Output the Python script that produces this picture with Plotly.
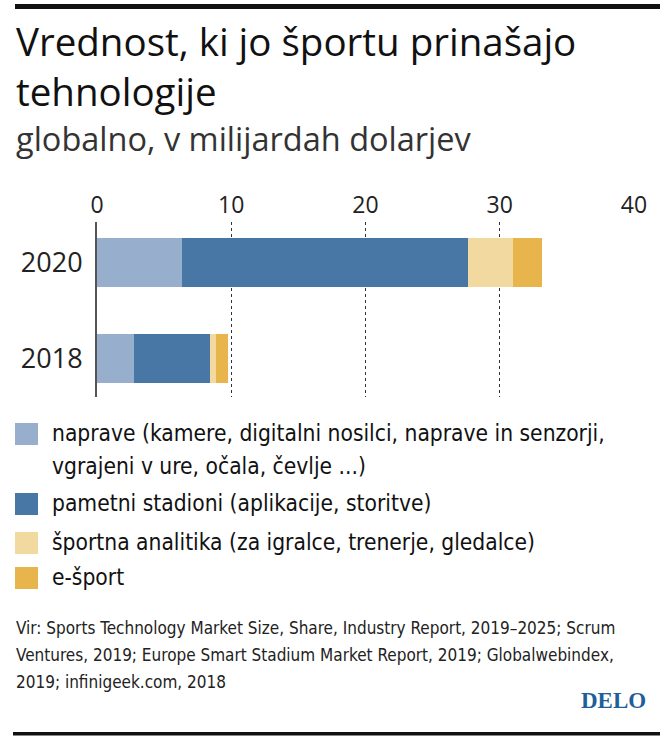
import plotly.graph_objects as go

# ---------------- data ----------------
years = ["2020", "2018"]
series_names = [
    "naprave (kamere, digitalni nosilci, naprave in senzorji,<br>vgrajeni v ure, očala, čevlje ...)",
    "pametni stadioni (aplikacije, storitve)",
    "športna analitika (za igralce, trenerje, gledalce)",
    "e-šport",
]
naprave = [6.35, 2.73]
stadioni = [21.25, 5.71]
analitika = [3.38, 0.42]
esport = [2.18, 0.92]
series_values = [naprave, stadioni, analitika, esport]
colors = ["#98AECD", "#4877A6", "#F2D9A0", "#E8B54C"]
x_ticks = [0, 10, 20, 30, 40]

title_lines = ["Vrednost, ki jo športu prinašajo", "tehnologije"]
subtitle = "globalno, v milijardah dolarjev"
source_lines = [
    "Vir: Sports Technology Market Size, Share, Industry Report, 2019–2025; Scrum",
    "Ventures, 2019; Europe Smart Stadium Market Report, 2019; Globalwebindex,",
    "2019; infinigeek.com, 2018",
]
brand = "DELO"

# ---------------- layout geometry (pixels) ----------------
W, H = 660, 746
PL, PR, PT, PB = 97, 634, 222, 397


def xp(px):
    return (px - PL) / (PR - PL)


def yp(py):
    return (PB - py) / (PB - PT)


HUM = "Open Sans, Noto Sans, sans-serif"
COND = "Liberation Sans Narrow, DejaVu Sans Condensed, Arial Narrow, Roboto, sans-serif"

fig = go.Figure()
for name, vals, col in zip(series_names, series_values, colors):
    fig.add_trace(go.Bar(
        y=years, x=vals, name=name, orientation="h",
        marker=dict(color=col, line=dict(width=0)),
        width=0.51, showlegend=False,
    ))

annotations = []
shapes = []

# title (one two-line block) & subtitle
annotations.append(dict(text="<br>".join(title_lines), x=xp(14), y=yp(66), xref="paper", yref="paper",
                        xanchor="left", yanchor="middle", align="left", showarrow=False,
                        font=dict(family=HUM, size=38.5, color="#111")))
annotations.append(dict(text=subtitle, x=xp(14), y=yp(138), xref="paper", yref="paper",
                        xanchor="left", yanchor="middle", showarrow=False,
                        font=dict(family=HUM, size=32.5, color="#333")))

# manual legend
sw_tops = [423, 493, 532, 567]
for i, (name, col) in enumerate(zip(series_names, colors)):
    top = sw_tops[i]
    shapes.append(dict(type="rect", xref="paper", yref="paper",
                       x0=xp(15), x1=xp(38), y0=yp(top), y1=yp(top + 22),
                       fillcolor=col, line=dict(width=0)))
    parts = name.split("<br>")
    for j, part in enumerate(parts):
        annotations.append(dict(text=part, x=xp(50), y=yp(top + 9.5 + 33 * j),
                                xref="paper", yref="paper", xanchor="left", yanchor="middle",
                                showarrow=False, font=dict(family=COND, size=22.6, color="#111")))

# source
for j, line in enumerate(source_lines):
    annotations.append(dict(text=line, x=xp(14), y=yp(628 + 27 * j), xref="paper", yref="paper",
                            xanchor="left", yanchor="middle", showarrow=False,
                            font=dict(family=COND, size=17, color="#222")))

annotations.append(dict(text="<b>" + brand + "</b>", x=xp(648), y=yp(700), xref="paper", yref="paper",
                        xanchor="right", yanchor="middle", showarrow=False,
                        font=dict(family="Liberation Serif, DejaVu Serif, serif", size=23, color="#1F5F99")))

# rules
shapes.append(dict(type="rect", xref="paper", yref="paper", x0=xp(15), x1=xp(662),
                   y0=yp(4), y1=yp(9), fillcolor="#111", line=dict(width=0)))
shapes.append(dict(type="rect", xref="paper", yref="paper", x0=xp(13), x1=xp(662),
                   y0=yp(732), y1=yp(735.5), fillcolor="#111", line=dict(width=0)))

fig.update_layout(
    width=W, height=H,
    margin=dict(l=PL, r=W - PR, t=PT, b=H - PB, pad=0),
    paper_bgcolor="white", plot_bgcolor="white",
    barmode="stack", bargap=0,
    annotations=annotations, shapes=shapes,
    showlegend=False,
    xaxis=dict(range=[0, 40], side="top", tickvals=x_ticks, ticktext=[str(t) for t in x_ticks],
               showgrid=True, gridcolor="#333", griddash="dot", gridwidth=1,
               zeroline=False, showline=False, ticks="", ticklabelstandoff=3,
               tickfont=dict(family=HUM, size=23, color="#222"), fixedrange=True),
    yaxis=dict(type="category", categoryorder="array", categoryarray=["2018", "2020"],
               range=[-0.398, 1.425], showgrid=False, zeroline=False,
               showline=True, linecolor="#555", linewidth=2, ticks="",
               ticklabelstandoff=7,
               tickfont=dict(family=HUM, size=27, color="#222"), fixedrange=True),
)

fig.write_html("out.html", config={"displayModeBar": False},
               post_script="document.body.style.margin='0';document.body.style.overflow='hidden';")
